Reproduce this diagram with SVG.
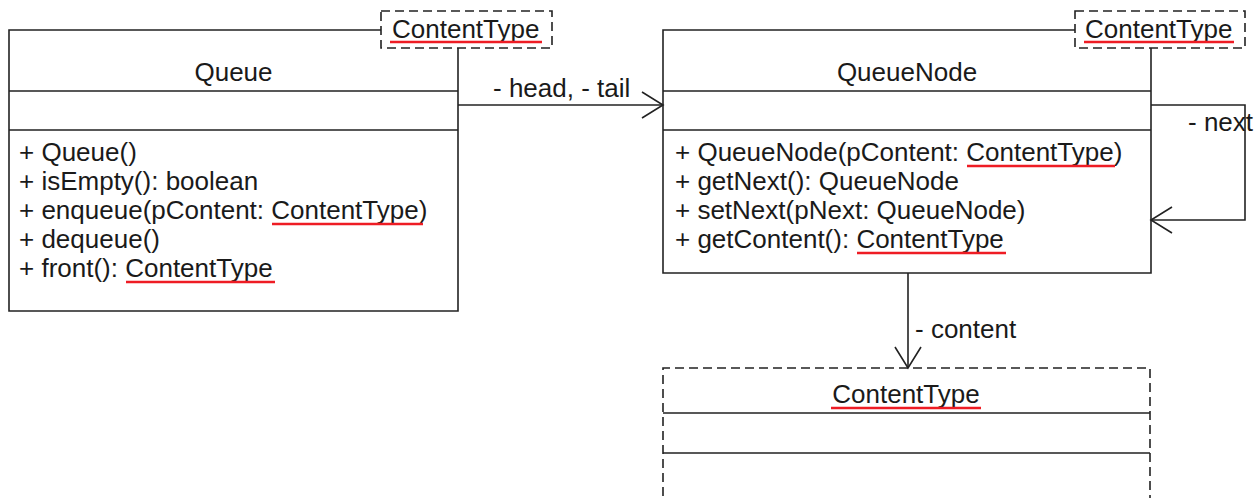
<svg xmlns="http://www.w3.org/2000/svg" width="1256" height="498" viewBox="0 0 1256 498">
<style>
  text { font-family: "Liberation Sans", Arial, sans-serif; font-size: 26px; fill: #1a1a1a; }
  .ln { stroke: #222; stroke-width: 1.6; fill: none; }
  .dash { stroke: #222; stroke-width: 1.6; fill: none; stroke-dasharray: 9 5; }
  .ul { stroke: #ee1c24; stroke-width: 2.4; }
  .mid { text-anchor: middle; }
</style>
<defs>
  <marker id="open" viewBox="0 0 24 30" refX="22" refY="15" markerWidth="24" markerHeight="30" markerUnits="userSpaceOnUse" orient="auto">
    <path d="M1,2 L22,15 L1,28" fill="none" stroke="#222" stroke-width="1.6"/>
  </marker>
</defs>
<rect width="1256" height="498" fill="#fff"/>

<g id="Queue">
  <path class="ln" d="M381,30 H9 V311 H458 V48"/>
  <path class="ln" d="M9,91 H458 M9,130 H458"/>
  <text class="mid" x="233.5" y="81">Queue</text>
  <text x="19" y="161">+ Queue()</text>
  <text x="19" y="190">+ isEmpty(): boolean</text>
  <text x="19" y="219">+ enqueue(pContent: <tspan>ContentType</tspan>)</text>
  <line class="ul" x1="272" y1="224" x2="423" y2="224"/>
  <text x="19" y="248">+ dequeue()</text>
  <text x="19" y="277">+ front(): ContentType</text>
  <line class="ul" x1="126" y1="282" x2="275" y2="282"/>
  <g id="Queue-template">
    <rect class="dash" x="381" y="11" width="171" height="37" fill="#fff"/>
    <text x="392" y="38">ContentType</text>
    <line class="ul" x1="390" y1="42" x2="542" y2="42"/>
  </g>
</g>

<g id="QueueNode">
  <path class="ln" d="M1075,30 H663 V273 H1151 V48"/>
  <path class="ln" d="M663,91 H1151 M663,130 H1151"/>
  <text class="mid" x="907" y="81">QueueNode</text>
  <text x="675" y="161">+ QueueNode(pContent: ContentType)</text>
  <line class="ul" x1="967" y1="166" x2="1115" y2="166"/>
  <text x="675" y="190">+ getNext(): QueueNode</text>
  <text x="675" y="219">+ setNext(pNext: QueueNode)</text>
  <text x="675" y="248">+ getContent(): ContentType</text>
  <line class="ul" x1="857" y1="253" x2="1006" y2="253"/>
  <g id="QueueNode-template">
    <rect class="dash" x="1075" y="11" width="170" height="37" fill="#fff"/>
    <text x="1085" y="38">ContentType</text>
    <line class="ul" x1="1084" y1="42" x2="1234" y2="42"/>
  </g>
</g>

<g id="ContentType">
  <path class="dash" d="M663,510 V368 H1150 V510"/>
  <path class="ln" d="M663,413 H1150 M663,453 H1150"/>
  <text class="mid" x="906" y="403">ContentType</text>
  <line class="ul" x1="831" y1="408" x2="981" y2="408"/>
</g>

<g id="connectors">
  <line class="ln" x1="458" y1="105" x2="663" y2="105" marker-end="url(#open)"/>
  <text x="493" y="97">- head, - tail</text>
  <path class="ln" d="M1151,105 H1245 V220 H1151" marker-end="url(#open)"/>
  <text x="1188" y="131">- next</text>
  <line class="ln" x1="908" y1="273" x2="908" y2="368" marker-end="url(#open)"/>
  <text x="915" y="338">- content</text>
</g>
</svg>
